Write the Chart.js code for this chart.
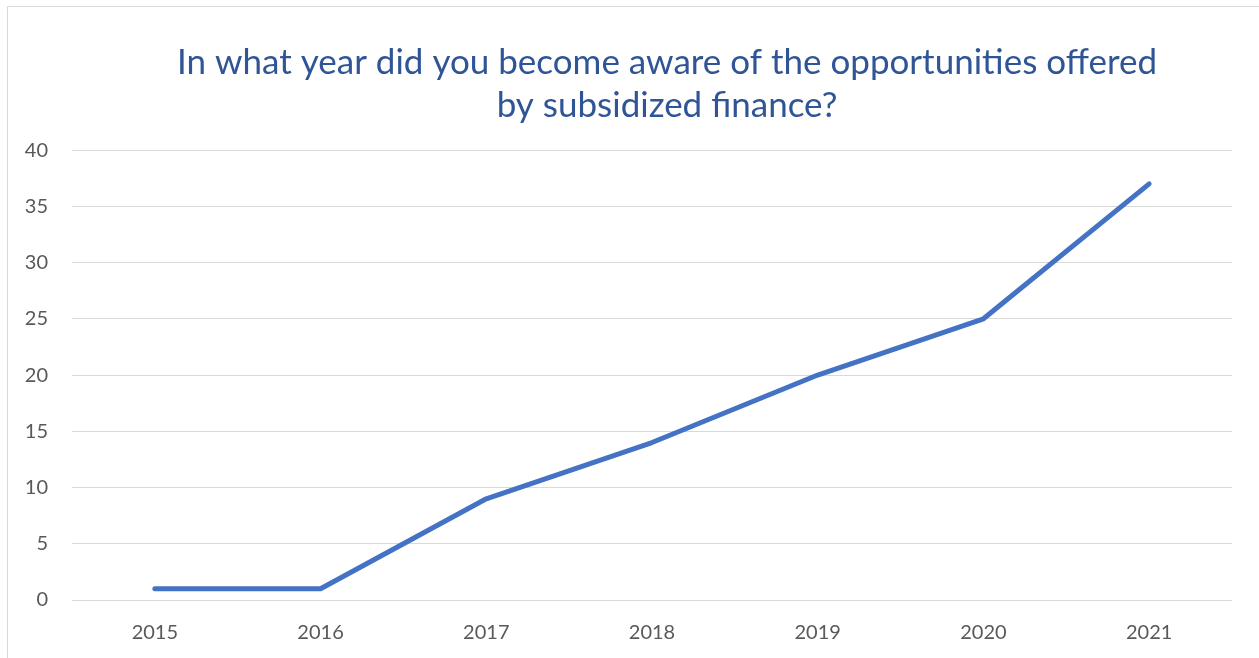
<!DOCTYPE html>
<html>
<head>
<meta charset="utf-8">
<script src="https://cdn.jsdelivr.net/npm/chart.js@4"></script>
<style>
  html, body { margin: 0; padding: 0; background: #fff; overflow: hidden; width: 1259px; height: 658px; }
  #frame { position: absolute; left: 7px; top: 6px; width: 1318px; height: 680px; border: 1px solid #d9d9d9; background: #fff; }
  #chart { display: block; }
</style>
</head>
<body>
<div id="frame"><canvas id="chart" width="1318" height="680"></canvas></div>
<script>
// Dados do gráfico
const years = ['2015', '2016', '2017', '2018', '2019', '2020', '2021'];
const respondents = [1, 1, 9, 14, 20, 25, 37];
const titleLines = ['In what year did you become aware of the opportunities offered', 'by subsidized finance?'];

const tickFont = { family: 'Lato, "Open Sans", sans-serif', size: 20 };

new Chart(document.getElementById('chart'), {
  type: 'line',
  data: {
    labels: years,
    datasets: [{
      data: respondents,
      borderColor: '#4472C4',
      borderWidth: 5,
      borderCapStyle: 'round',
      borderJoinStyle: 'round',
      pointRadius: 0,
      tension: 0,
      fill: false
    }]
  },
  options: {
    responsive: false,
    animation: false,
    layout: { padding: 0 },
    plugins: {
      legend: { display: false },
      tooltip: { enabled: false },
      title: {
        display: true,
        text: titleLines,
        color: '#2F5597',
        font: { family: 'Lato, "Open Sans", sans-serif', size: 35, weight: 'normal', lineHeight: 1.23 },
        padding: { top: 34, bottom: 23 }
      }
    },
    scales: {
      x: {
        offset: true,
        grid: { display: false, drawTicks: false },
        border: { display: false },
        ticks: { color: '#595959', font: tickFont, padding: 21 },
        afterFit: (scale) => { scale.height = 680 - 593; }
      },
      y: {
        min: 0,
        max: 40,
        grid: { color: '#d9d9d9', lineWidth: 1, drawTicks: false },
        border: { display: false },
        ticks: { stepSize: 5, color: '#595959', font: tickFont, padding: 24 },
        afterFit: (scale) => { scale.width = 64; }
      },
      // espaço vazio à direita da área do gráfico
      yRight: {
        position: 'right',
        grid: { display: false, drawTicks: false },
        border: { display: false },
        ticks: { display: false },
        afterFit: (scale) => { scale.width = 94; }
      }
    }
  }
});
</script>
</body>
</html>
